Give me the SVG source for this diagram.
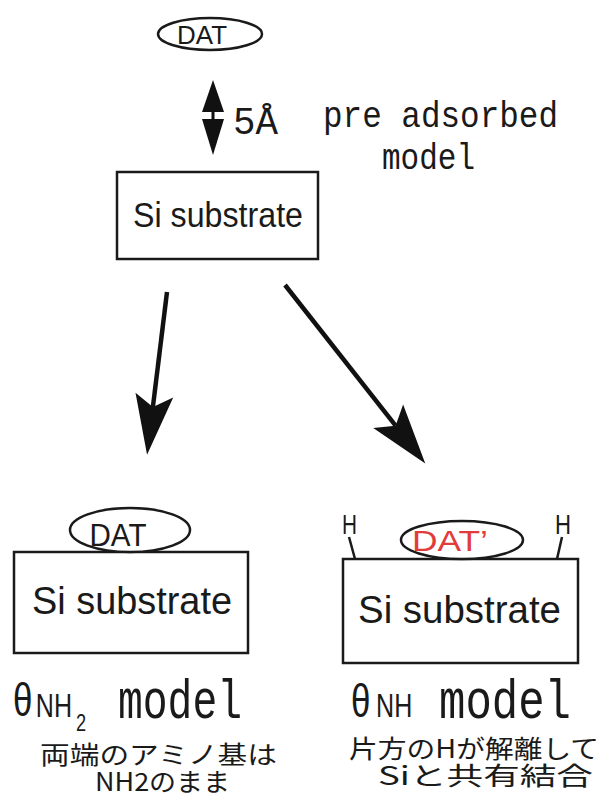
<svg xmlns="http://www.w3.org/2000/svg" width="612" height="812" viewBox="0 0 612 812">
<style>
.bg{fill:#ffffff}
.box{fill:none;stroke:#1a1a1a;stroke-width:2.5}
.ell{fill:#ffffff;stroke:#1a1a1a;stroke-width:2.5}
.sans{font-family:"Liberation Sans",Arial,sans-serif;fill:#1a1a1a}
.mono{font-family:"Liberation Mono","DejaVu Sans Mono",monospace;fill:#1a1a1a}
.jp{font-family:"Noto Sans CJK JP","Liberation Sans",sans-serif;fill:#1a1a1a}
.red{fill:#e23b3b}
.arrow{stroke:#111;stroke-width:4.5;fill:none}
.bond{stroke:#1a1a1a;stroke-width:2.5;fill:none}
</style>
<defs>
<marker id="head" markerUnits="userSpaceOnUse" viewBox="-14 -21 64 42" refX="0" refY="0" markerWidth="64" markerHeight="42" orient="auto">
<path d="M48 0 L-12 -19 L0 0 L-12 19 Z" fill="#111"/>
</marker>
</defs>
<rect class="bg" x="0" y="0" width="612" height="812"/>

<g id="dat-top">
<ellipse class="ell" cx="210" cy="34" rx="52" ry="16"/>
<text class="sans" x="202" y="44" font-size="26" text-anchor="middle" textLength="50" lengthAdjust="spacingAndGlyphs">DAT</text>
</g>

<g id="distance">
<polygon points="213,80 202,112 224,112" fill="#111"/>
<rect x="211.5" y="111" width="3" height="9" fill="#111"/>
<polygon points="202,119 224,119 213,155" fill="#111"/>
<text class="mono" x="233" y="134" font-size="38" textLength="45" lengthAdjust="spacingAndGlyphs">5Å</text>
</g>

<g id="label-preadsorbed">
<text class="mono" font-size="36"><tspan x="323" y="127" textLength="235" lengthAdjust="spacingAndGlyphs">pre adsorbed</tspan><tspan x="382" y="169" textLength="93" lengthAdjust="spacingAndGlyphs">model</tspan></text>
</g>

<g id="substrate-top">
<rect class="box" x="117" y="172" width="201" height="87"/>
<text class="sans" x="133" y="227" font-size="35" textLength="170" lengthAdjust="spacingAndGlyphs">Si substrate</text>
</g>

<g id="connectors">
<line class="arrow" x1="167" y1="292" x2="152.9" y2="407" marker-end="url(#head)"/>
<line class="arrow" x1="285" y1="285" x2="395.6" y2="425.7" marker-end="url(#head)"/>
</g>

<g id="model-nh2">
<rect class="box" x="14" y="552" width="234" height="101"/>
<ellipse class="ell" cx="130" cy="530" rx="60" ry="22"/>
<text class="sans" x="118" y="546" font-size="31" text-anchor="middle" textLength="57" lengthAdjust="spacingAndGlyphs">DAT</text>
<text class="sans" x="32" y="614" font-size="38" textLength="200" lengthAdjust="spacingAndGlyphs">Si substrate</text>
<text class="sans" transform="translate(13 716) scale(0.76 1)"><tspan x="0" y="0" font-size="46">θ</tspan><tspan x="30" y="1" font-size="33">NH</tspan><tspan x="83" y="15" font-size="24">2</tspan></text>
<text class="mono" x="118" y="718" font-size="56" textLength="124" lengthAdjust="spacingAndGlyphs">model</text>
<text class="jp" font-size="25"><tspan x="40" y="764" textLength="237" lengthAdjust="spacingAndGlyphs">両端のアミノ基は</tspan><tspan x="95" y="791" textLength="135" lengthAdjust="spacingAndGlyphs">NH2のまま</tspan></text>
</g>

<g id="model-nh">
<rect class="box" x="343" y="559" width="235" height="104"/>
<ellipse class="ell" cx="462" cy="540" rx="61" ry="19"/>
<text class="sans red" x="450" y="551" font-size="30" text-anchor="middle" textLength="76" lengthAdjust="spacingAndGlyphs">DAT’</text>
<text class="sans" x="342" y="534" font-size="28" textLength="15" lengthAdjust="spacingAndGlyphs">H</text>
<line class="bond" x1="349" y1="537" x2="355" y2="559"/>
<text class="sans" x="555" y="534" font-size="28" textLength="16" lengthAdjust="spacingAndGlyphs">H</text>
<line class="bond" x1="562" y1="537" x2="557" y2="559"/>
<text class="sans" x="358" y="623" font-size="38" textLength="203" lengthAdjust="spacingAndGlyphs">Si substrate</text>
<text class="sans" transform="translate(351 717) scale(0.76 1)"><tspan x="0" y="0" font-size="46">θ</tspan><tspan x="33" y="0" font-size="33">NH</tspan></text>
<text class="mono" x="439" y="718" font-size="56" textLength="132" lengthAdjust="spacingAndGlyphs">model</text>
<text class="jp" font-size="25"><tspan x="349" y="758" textLength="250" lengthAdjust="spacingAndGlyphs">片方のHが解離して</tspan><tspan x="378" y="785" textLength="215" lengthAdjust="spacingAndGlyphs">Siと共有結合</tspan></text>
</g>
</svg>
